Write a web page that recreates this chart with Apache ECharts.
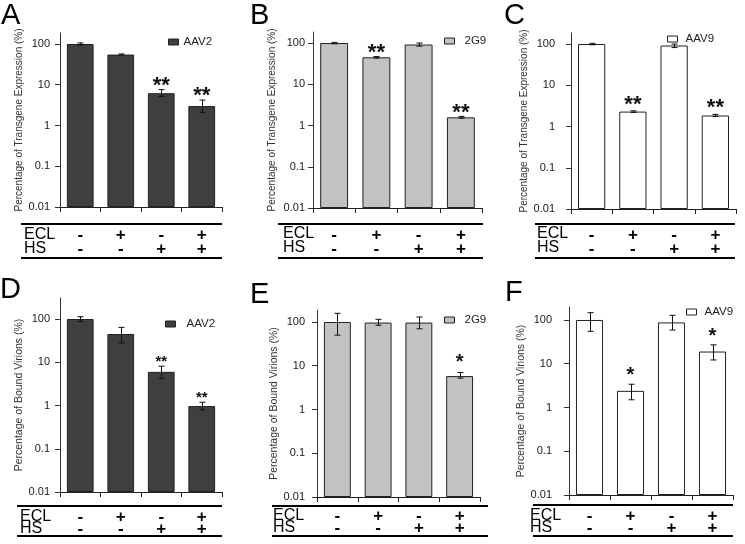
<!DOCTYPE html>
<html><head><meta charset="utf-8">
<script src="https://cdn.jsdelivr.net/npm/echarts@6/dist/echarts.min.js"></script>
<style>html,body{margin:0;padding:0;background:#fff}#c{width:745px;height:544px}</style>
</head><body><div id="c"></div>
<script>
// ---------------- DATA ----------------
const panelLetters = ['A', 'B', 'C', 'D', 'E', 'F'];
const vectorNames = ['AAV2', '2G9', 'AAV9', 'AAV2', '2G9', 'AAV9'];
const yTitleTop = 'Percentage of Transgene Expression (%)';
const yTitleBottom = 'Percentage of Bound Virions (%)';
const rowLabels = ['ECL', 'HS'];
const eclRow = ['-', '+', '-', '+'];
const hsRow = ['-', '-', '+', '+'];
const yTickLabels = ['0.01', '0.1', '1', '10', '100'];

const valuesA = [100, 55, 6.2, 3.0];
const lowA = [95, 53, 5.2, 2.1];
const highA = [106, 57, 7.6, 4.2];
const starsA = ['', '', '**', '**'];

const valuesB = [100, 45, 92, 1.58];
const lowB = [96, 43, 84, 1.5];
const highB = [104, 47, 100, 1.66];
const starsB = ['', '**', '', '**'];

const valuesC = [100, 2.3, 92, 1.85];
const lowC = [96, 2.2, 82, 1.75];
const highC = [104, 2.4, 100, 1.97];
const starsC = ['', '**', '', '**'];

const valuesD = [100, 45, 6.0, 0.97];
const lowD = [88, 28, 4.2, 0.79];
const highD = [113, 64, 8.1, 1.19];
const starsD = ['', '', '**', '**'];

const valuesE = [100, 97, 97, 5.8];
const lowE = [50, 84, 70, 5.2];
const highE = [158, 115, 130, 7.0];
const starsE = ['', '', '', '*'];

const valuesF = [100, 2.4, 88, 19];
const lowF = [55, 1.5, 59, 12.2];
const highF = [147, 3.4, 128, 27];
const starsF = ['', '*', '', '*'];

// ---------------- BUILD ----------------
const categories = eclRow.map((e, i) => e + '\n' + hsRow[i]);
const panelData = [
  {values: valuesA, low: lowA, high: highA, stars: starsA, ytitle: yTitleTop},
  {values: valuesB, low: lowB, high: highB, stars: starsB, ytitle: yTitleTop},
  {values: valuesC, low: lowC, high: highC, stars: starsC, ytitle: yTitleTop},
  {values: valuesD, low: lowD, high: highD, stars: starsD, ytitle: yTitleBottom},
  {values: valuesE, low: lowE, high: highE, stars: starsE, ytitle: yTitleBottom},
  {values: valuesF, low: lowF, high: highF, stars: starsF, ytitle: yTitleBottom}
];

const FONT = '"Liberation Sans", Arial, sans-serif';
const layout = [
  {grid: {left: 60, top: 33, width: 162, height: 174}, ymax: 186, fill: '#3f3f3f', letter: [1, 1], lg: {left: 168, top: 36, pad: 0}, nameGap: 36, nameSize: 10, yMargin: 10, xMargin: 21, xLH: 14, table: {x1: 21, x2: 222, top: 224, bottom: 258, r1: 235, r2: 249, lab: 24}, starFont: 22, starGap: 9},
  {grid: {left: 313, top: 32, width: 169, height: 176}, ymax: 185, fill: '#c2c2c2', letter: [250, 1], lg: {left: 444, top: 35, pad: 5}, nameGap: 36, nameSize: 10, yMargin: 8, xMargin: 20, xLH: 14, table: {x1: 278, x2: 483, top: 224, bottom: 258, r1: 234, r2: 248, lab: 283}, starFont: 22, starGap: 9},
  {grid: {left: 571, top: 33, width: 165, height: 176}, ymax: 185, fill: '#ffffff', letter: [504, 1], lg: {left: 667, top: 33, pad: 3}, nameGap: 35, nameSize: 10, yMargin: 16, xMargin: 19, xLH: 14, table: {x1: 535, x2: 735, top: 224, bottom: 258, r1: 234, r2: 248, lab: 537}, starFont: 22, starGap: 11},
  {grid: {left: 60, top: 298, width: 162, height: 194}, ymax: 306, fill: '#3f3f3f', letter: [0, 275], lg: {left: 165, top: 318, pad: 6}, nameGap: 32, nameSize: 10.5, yMargin: 10, xMargin: 19, xLH: 12, table: {x1: 17, x2: 222, top: 506, bottom: 536, r1: 517, r2: 529, lab: 20}, starFont: 15, starGap: 8},
  {grid: {left: 317, top: 310, width: 163, height: 187}, ymax: 188, fill: '#c2c2c2', letter: [250, 280], lg: {left: 444, top: 314, pad: 5}, nameGap: 37, nameSize: 10.5, yMargin: 12, xMargin: 13, xLH: 12, table: {x1: 272, x2: 488, top: 506, bottom: 536, r1: 516, r2: 528, lab: 273}, starFont: 20, starGap: 15},
  {grid: {left: 569, top: 307, width: 164, height: 188}, ymax: 198, fill: '#ffffff', letter: [505, 278], lg: {left: 686, top: 306, pad: 3}, nameGap: 35, nameSize: 10.5, yMargin: 17, xMargin: 15, xLH: 12, table: {x1: 533, x2: 733, top: 505, bottom: 536, r1: 516, r2: 528, lab: 530}, starFont: 20, starGap: 13}
];

function tickFormatter(v) {
  const l = Math.log10(v);
  const e = Math.round(l);
  if (Math.abs(l - e) > 1e-6) return '';
  const idx = e + 2;
  return idx >= 0 && idx < yTickLabels.length ? yTickLabels[idx] : '';
}

const grids = [], xAxes = [], yAxes = [], series = [], legends = [], graphics = [];
panelData.forEach((p, k) => {
  const L = layout[k];
  grids.push(Object.assign({containLabel: false}, L.grid));
  xAxes.push({
    type: 'category', gridIndex: k, data: categories,
    axisLine: {lineStyle: {color: '#222', width: 1}},
    axisTick: {show: true, length: 5, lineStyle: {color: '#222'}},
    axisLabel: {interval: 0, margin: L.xMargin, lineHeight: L.xLH, fontSize: 17, fontWeight: 'bold', color: '#000', fontFamily: FONT}
  });
  yAxes.push({
    type: 'log', logBase: 10, gridIndex: k, min: 0.01, max: L.ymax, startValue: 0.01,
    splitLine: {show: false},
    axisLine: {show: true, lineStyle: {color: '#333', width: 1}},
    axisTick: {show: true, length: 5, lineStyle: {color: '#333'}},
    axisLabel: {formatter: tickFormatter, margin: L.yMargin, fontSize: 11, color: '#1a1a1a', fontFamily: FONT, showMaxLabel: false},
    name: p.ytitle, nameLocation: 'middle', nameGap: L.nameGap,
    nameTextStyle: {fontSize: L.nameSize, color: '#333', fontFamily: FONT}
  });
  series.push({
    type: 'bar', name: vectorNames[k], xAxisIndex: k, yAxisIndex: k,
    data: p.values, barWidth: '66%',
    itemStyle: {color: L.fill, borderColor: '#222', borderWidth: 1},
    emphasis: {disabled: true}, animation: false
  });
  series.push({
    type: 'custom', name: 'err' + k, xAxisIndex: k, yAxisIndex: k,
    data: p.values.map((v, i) => [i, p.low[i], p.high[i]]),
    encode: {x: 0, y: [1, 2]},
    animation: false, silent: true, clip: false, z: 5,
    renderItem: (params, api) => {
      const i = api.value(0);
      const lo = api.coord([i, api.value(1)]);
      const hi = api.coord([i, api.value(2)]);
      const x = Math.round(lo[0]) + 0.5;
      const cap = 3;
      const st = {stroke: '#111', lineWidth: 1};
      const children = [
        {type: 'line', shape: {x1: x, y1: lo[1], x2: x, y2: hi[1]}, style: st},
        {type: 'line', shape: {x1: x - cap, y1: hi[1], x2: x + cap, y2: hi[1]}, style: st},
        {type: 'line', shape: {x1: x - cap, y1: lo[1], x2: x + cap, y2: lo[1]}, style: st}
      ];
      const s = p.stars[params.dataIndex];
      if (s) {
        children.push({type: 'text', style: {
          text: s, x: lo[0], y: hi[1] - L.starGap + 0.23 * L.starFont,
          align: 'center', verticalAlign: 'middle', textAlign: 'center', textVerticalAlign: 'middle',
          font: 'bold ' + L.starFont + 'px ' + FONT, fill: '#111'
        }});
      }
      return {type: 'group', children: children};
    }
  });
  legends.push({
    data: [vectorNames[k]], left: L.lg.left, top: L.lg.top, icon: 'rect', padding: 0,
    itemWidth: 10, itemHeight: 6, selectedMode: false,
    itemStyle: {borderColor: '#222', borderWidth: 1},
    textStyle: {fontSize: 11.5, color: '#222', fontFamily: FONT, padding: [0, 0, 0, L.lg.pad]}
  });
  // panel letter
  graphics.push({type: 'text', left: L.letter[0], top: L.letter[1],
    style: {text: panelLetters[k], font: '29px ' + FONT, fill: '#000'}});
  // table rules and row labels
  const T = L.table;
  [T.top, T.bottom].forEach(y => graphics.push({type: 'line', shape: {x1: T.x1, y1: y, x2: T.x2, y2: y}, style: {stroke: '#000', lineWidth: 2}}));
  [T.r1, T.r2].forEach((y, j) => graphics.push({type: 'text', x: T.lab, y: y,
    style: {text: rowLabels[j], font: '16px ' + FONT, fill: '#000', verticalAlign: 'middle', textVerticalAlign: 'middle'}}));
});

const chart = echarts.init(document.getElementById('c'), null, {renderer: 'canvas', width: 745, height: 544});
chart.setOption({
  animation: false,
  backgroundColor: '#fff',
  grid: grids, xAxis: xAxes, yAxis: yAxes, series: series, legend: legends,
  graphic: {elements: graphics}
});
</script></body></html>
